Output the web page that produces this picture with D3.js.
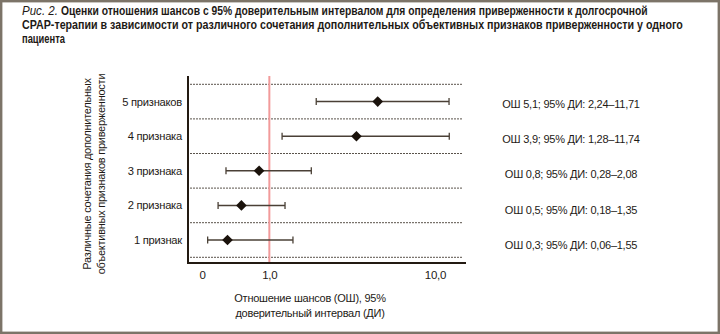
<!DOCTYPE html>
<html><head><meta charset="utf-8">
<script src="https://cdn.jsdelivr.net/npm/d3@7"></script>
<style>
html,body{margin:0;padding:0;background:#fff;}
svg{display:block;}
text{font-family:"Liberation Sans","Arimo",Arial,sans-serif;fill:#1e1a16;letter-spacing:-0.25px;}
.title{font-size:12.5px;letter-spacing:0;}
</style></head>
<body>
<svg id="chart" width="720" height="334"></svg>
<script>
const categories = ["5 признаков", "4 признака", "3 признака", "2 признака", "1 признак"];
const oddsRatio = [5.1, 3.9, 0.8, 0.5, 0.3];
const ciLow = [2.24, 1.28, 0.28, 0.18, 0.06];
const ciHigh = [11.71, 11.74, 2.08, 1.35, 1.55];
const tickValues = [0, 1, 10];
const tickLabels = ["0", "1,0", "10,0"];
const titlePrefix = "Рис. 2.";
const titleLines = [
  "Оценки отношения шансов с 95% доверительным интервалом для определения приверженности к долгосрочной",
  "CPAP-терапии в зависимости от различного сочетания дополнительных объективных признаков приверженности у одного",
  "пациента"
];
const xTitle = ["Отношение шансов (ОШ), 95%", "доверительный интервал (ДИ)"];
const yTitle = ["Различные сочетания дополнительных", "объективных признаков приверженности"];

const svg = d3.select("#chart");
const W = 720, H = 334;
const plot = {left: 188, right: 466, top: 76, bottom: 263};

// outer frame
svg.append("rect").attr("x", 1.2).attr("y", 1.2).attr("width", W - 2.4).attr("height", H - 2.4)
  .attr("fill", "none").attr("stroke", "#7c7468").attr("stroke-width", 2.4);

// title: condensed by horizontal scaling to the target widths
function condensed(str, x0, y0, width, style, weight) {
  const t = svg.append("text").attr("class", "title")
    .attr("font-style", style).attr("font-weight", weight).text(str);
  const natural = t.node().getComputedTextLength();
  const k = Math.min(1, width / natural);
  t.attr("transform", `translate(${x0},${y0}) scale(${k},1)`);
}
condensed(titlePrefix, 22, 15, 36, "italic", "normal");
const titleLayout = [{x: 61, len: 587}, {x: 22, len: 662}, {x: 22, len: 43}];
titleLines.forEach((s, i) => condensed(s, titleLayout[i].x, 15 + i * 14, titleLayout[i].len, "normal", "bold"));

const x = d3.scaleSymlog().constant(1).domain([0, 10]).range([202, 435]);
const y = d3.scaleBand().domain(categories).range([84.3, 257.3]).paddingInner(0);
const yLab = d3.scalePoint().domain(categories).range([104, 245]);

const data = categories.map((c, i) => ({c, or: oddsRatio[i], lo: ciLow[i], hi: ciHigh[i]}));

// gridlines (band boundaries)
const bounds = categories.map(c => y(c)).concat([y(categories[categories.length - 1]) + y.bandwidth()]);
svg.append("g").selectAll("line").data(bounds).join("line")
  .attr("x1", plot.left + 2).attr("x2", plot.right - 3)
  .attr("y1", d => d).attr("y2", d => d)
  .attr("stroke", "#5a534b").attr("stroke-width", 1).attr("stroke-dasharray", "2,1");

// reference line at OR = 1
svg.append("line").attr("x1", x(1)).attr("x2", x(1)).attr("y1", plot.top).attr("y2", plot.bottom - 1)
  .attr("stroke", "#f29a9a").attr("stroke-width", 2);

// axes frame
svg.append("line").attr("x1", plot.left).attr("x2", plot.left).attr("y1", plot.top).attr("y2", plot.bottom + 1)
  .attr("stroke", "#231a12").attr("stroke-width", 2);
svg.append("line").attr("x1", plot.left - 1).attr("x2", plot.right).attr("y1", plot.bottom).attr("y2", plot.bottom)
  .attr("stroke", "#231a12").attr("stroke-width", 2);

// x axis tick labels
const xAxis = d3.axisBottom(x).tickValues(tickValues).tickSize(0).tickPadding(8)
  .tickFormat((d, i) => tickLabels[i]);
const gx = svg.append("g").attr("transform", `translate(0,${plot.bottom})`).call(xAxis);
gx.select(".domain").remove();
gx.selectAll("text").attr("font-size", 11.5).attr("fill", "#1e1a16")
  .attr("font-family", "'Liberation Sans',Arial,sans-serif");

// category labels
svg.append("g").selectAll("text").data(categories).join("text")
  .attr("x", 182).attr("y", d => y(d) + y.bandwidth() / 2).attr("dy", "0.35em")
  .attr("text-anchor", "end").attr("font-size", 11.2).text(d => d);

// error bars
const rows = svg.append("g").selectAll("g").data(data).join("g")
  .attr("transform", d => `translate(0,${y(d.c) + y.bandwidth() / 2})`);
rows.append("line").attr("x1", d => x(d.lo)).attr("x2", d => x(d.hi))
  .attr("stroke", "#4a4036").attr("stroke-width", 1.5);
rows.append("line").attr("x1", d => x(d.lo)).attr("x2", d => x(d.lo)).attr("y1", -3.5).attr("y2", 3.5)
  .attr("stroke", "#4a4036").attr("stroke-width", 1.3);
rows.append("line").attr("x1", d => x(d.hi)).attr("x2", d => x(d.hi)).attr("y1", -3.5).attr("y2", 3.5)
  .attr("stroke", "#4a4036").attr("stroke-width", 1.3);
rows.append("path").attr("d", d3.symbol(d3.symbolDiamond2, 72))
  .attr("transform", d => `translate(${x(d.or)},0)`).attr("fill", "#1a120b");

// right-side labels
const f1 = v => d3.format(".1f")(v).replace(".", ",");
const f2 = v => d3.format(".2f")(v).replace(".", ",");
svg.append("g").selectAll("text").data(data).join("text")
  .attr("x", 571).attr("y", d => yLab(d.c)).attr("dy", "0.35em").attr("text-anchor", "middle")
  .attr("font-size", 11)
  .text(d => `ОШ ${f1(d.or)}; 95% ДИ: ${f2(d.lo)}–${f2(d.hi)}`);

// x title
svg.append("g").selectAll("text").data(xTitle).join("text")
  .attr("x", 310).attr("y", (d, i) => 298 + i * 15).attr("dy", "0.35em")
  .attr("text-anchor", "middle").attr("font-size", 11).text(d => d);

// y title
svg.append("g").selectAll("text").data(yTitle).join("text")
  .attr("transform", (d, i) => `translate(${87 + i * 14},174) rotate(-90)`)
  .attr("dy", "0.35em").attr("text-anchor", "middle").attr("font-size", 11).text(d => d);
</script>
</body></html>
